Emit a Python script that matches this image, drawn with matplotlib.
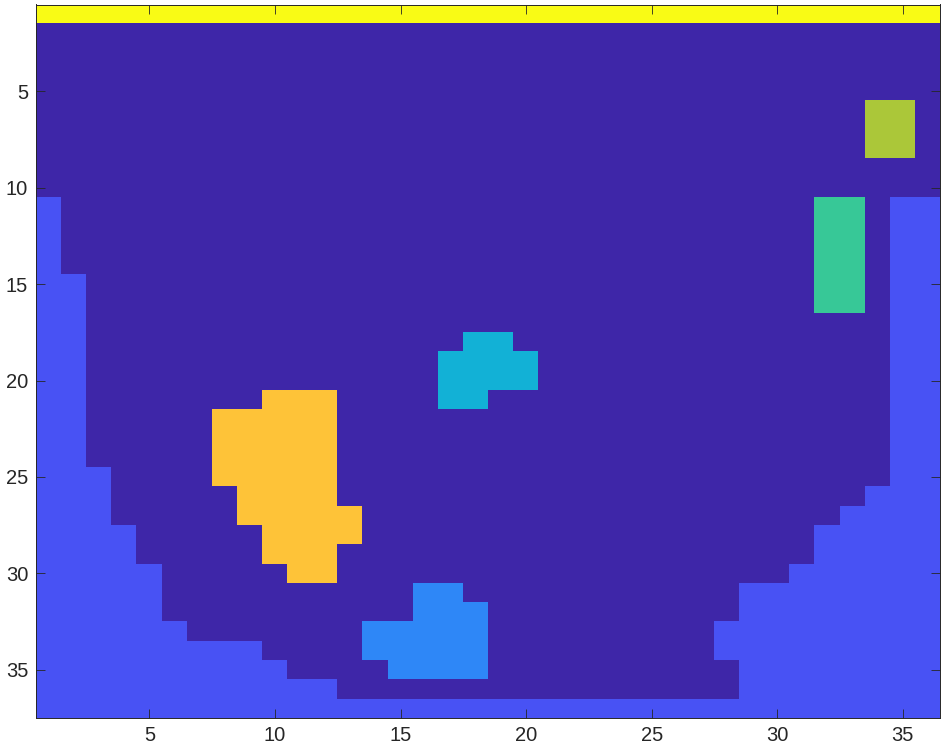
import numpy as np
import matplotlib
matplotlib.use('Agg')
from matplotlib import pyplot as plt
from matplotlib.colors import ListedColormap

'''
Label image (imagesc style), 36 columns x 37 rows, parula colours
'''

# each row is one image row (top to bottom), one digit per column, grouped by 6 columns
label_rows = [
    "777777 777777 777777 777777 777777 777777",  # 1
    "000000 000000 000000 000000 000000 000000",  # 2
    "000000 000000 000000 000000 000000 000000",  # 3
    "000000 000000 000000 000000 000000 000000",  # 4
    "000000 000000 000000 000000 000000 000000",  # 5
    "000000 000000 000000 000000 000000 000550",  # 6
    "000000 000000 000000 000000 000000 000550",  # 7
    "000000 000000 000000 000000 000000 000550",  # 8
    "000000 000000 000000 000000 000000 000000",  # 9
    "000000 000000 000000 000000 000000 000000",  # 10
    "100000 000000 000000 000000 000000 044011",  # 11
    "100000 000000 000000 000000 000000 044011",  # 12
    "100000 000000 000000 000000 000000 044011",  # 13
    "100000 000000 000000 000000 000000 044011",  # 14
    "110000 000000 000000 000000 000000 044011",  # 15
    "110000 000000 000000 000000 000000 044011",  # 16
    "110000 000000 000000 000000 000000 000011",  # 17
    "110000 000000 000003 300000 000000 000011",  # 18
    "110000 000000 000033 330000 000000 000011",  # 19
    "110000 000000 000033 330000 000000 000011",  # 20
    "110000 000666 000033 000000 000000 000011",  # 21
    "110000 066666 000000 000000 000000 000011",  # 22
    "110000 066666 000000 000000 000000 000011",  # 23
    "110000 066666 000000 000000 000000 000011",  # 24
    "111000 066666 000000 000000 000000 000011",  # 25
    "111000 006666 000000 000000 000000 000111",  # 26
    "111000 006666 600000 000000 000000 001111",  # 27
    "111100 000666 600000 000000 000000 011111",  # 28
    "111100 000666 000000 000000 000000 011111",  # 29
    "111110 000066 000000 000000 000000 111111",  # 30
    "111110 000000 000220 000000 000011 111111",  # 31
    "111110 000000 000222 000000 000011 111111",  # 32
    "111111 000000 022222 000000 000111 111111",  # 33
    "111111 111000 022222 000000 000111 111111",  # 34
    "111111 111100 002222 000000 000011 111111",  # 35
    "111111 111111 000000 000000 000011 111111",  # 36
    "111111 111111 111111 111111 111111 111111",  # 37
]

x_ticks = [5, 10, 15, 20, 25, 30, 35]
y_ticks = [5, 10, 15, 20, 25, 30, 35]

# parula(8)
parula8 = ['#3e26a8', '#4852f4', '#2e87f7', '#12b1d6',
           '#37c897', '#abc739', '#fec338', '#f9fb15']

grid = np.array([[int(c) for c in r.replace(' ', '')] for r in label_rows])
n_rows, n_cols = grid.shape

fig = plt.figure(figsize=(9.45, 7.51), dpi=100)
ax = fig.add_axes([36.5 / 945, (751 - 718) / 751, 904 / 945, 713.5 / 751])

ax.imshow(grid, cmap=ListedColormap(parula8), vmin=-0.5, vmax=7.5,
          interpolation='nearest', aspect='auto',
          extent=(0.5, n_cols + 0.5, n_rows + 0.5, 0.5))

ax.set_xticks(x_ticks)
ax.set_yticks(y_ticks)
ax.tick_params(direction='in', length=6.5, width=0.6, color='#262626',
               top=True, right=True, labelsize=14.5, labelcolor='#262626', pad=6)
for lab in ax.get_xticklabels() + ax.get_yticklabels():
    lab.set_fontfamily('Liberation Sans')
for s in ax.spines.values():
    s.set_color('#262626')
    s.set_linewidth(0.7)

fig.savefig('out.png', dpi=100)
